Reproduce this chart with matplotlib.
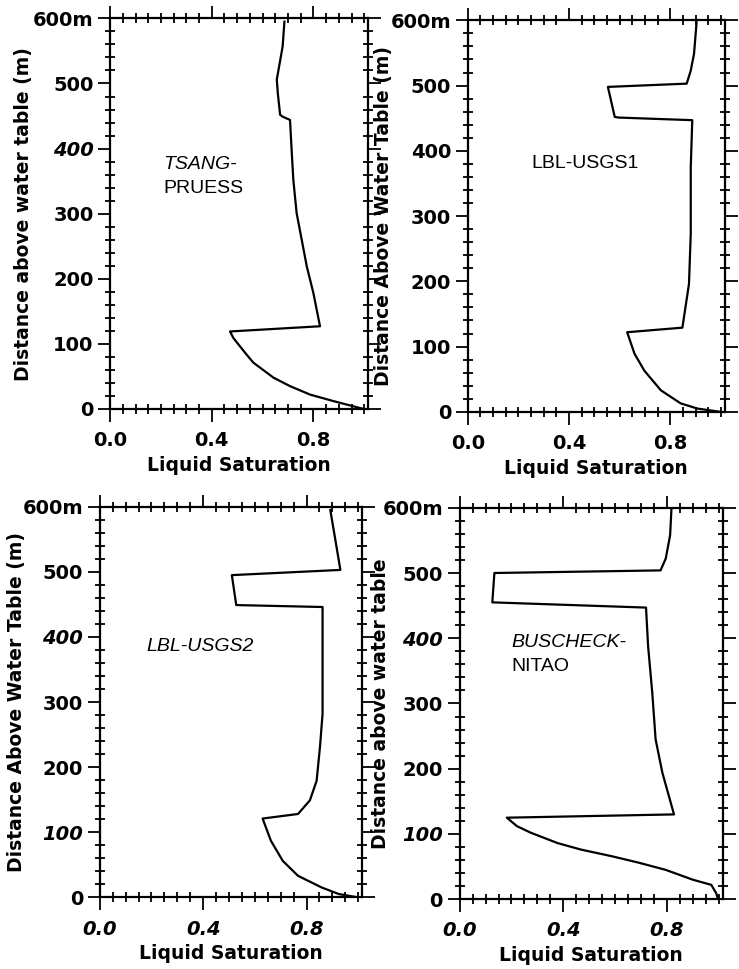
import matplotlib.pyplot as plt
from matplotlib.ticker import MultipleLocator

# liquid saturation profiles (saturation, height above water table in m)
tp_sat = [0.686, 0.679, 0.656, 0.66, 0.669, 0.679, 0.708, 0.715, 0.721, 0.734, 0.754, 0.774, 0.80, 0.826,
          0.472, 0.485, 0.538, 0.564, 0.643, 0.708, 0.787, 0.879, 0.997]
tp_z = [595, 557, 506, 485, 452, 449, 444, 393, 352, 301, 260, 219, 178, 127,
        119, 109, 83, 71, 48, 35, 22, 12, 0]

u1_sat = [0.903, 0.893, 0.88, 0.864, 0.553, 0.58, 0.595, 0.886, 0.88, 0.88, 0.873, 0.847,
          0.629, 0.658, 0.697, 0.762, 0.84, 0.906, 0.997]
u1_z = [597, 549, 523, 503, 498, 452, 451, 447, 375, 273, 196, 129,
        122, 89, 63, 33, 13, 5, 0]

u2_sat = [0.892, 0.931, 0.511, 0.528, 0.862, 0.862, 0.852, 0.839, 0.813, 0.767,
          0.63, 0.662, 0.708, 0.767, 0.859, 0.925, 0.997]
u2_z = [595, 503, 495, 449, 446, 282, 231, 179, 149, 128,
        121, 87, 56, 33, 15, 5, 0]

bn_sat = [0.817, 0.812, 0.795, 0.775, 0.134, 0.126, 0.719, 0.727, 0.743, 0.756, 0.782, 0.827,
          0.182, 0.221, 0.274, 0.378, 0.469, 0.586, 0.691, 0.795, 0.899, 0.971, 0.99, 0.997]
bn_z = [598, 558, 522, 504, 500, 455, 447, 388, 317, 245, 194, 130,
        125, 112, 102, 86, 76, 66, 56, 45, 30, 22, 9, 0]

names = [("TSANG-", "PRUESS"), ("LBL-USGS1", ""), ("LBL-USGS2", ""), ("BUSCHECK-", "NITAO")]
ylabels = ["Distance above water table (m)", "Distance Above Water Table (m)",
           "Distance Above Water Table (m)", "Distance above water table"]
ytick_vals = [0, 100, 200, 300, 400, 500, 600]
ytick_text = ["0", "100", "200", "300", "400", "500", "600m"]
xtick_vals = [0.0, 0.4, 0.8]
xtick_text = ["0.0", "0.4", "0.8"]

profiles = [(tp_sat, tp_z), (u1_sat, u1_z), (u2_sat, u2_z), (bn_sat, bn_z)]

# axes boxes [left, bottom, width, height] in figure fraction
boxes = [[0.149, 0.578, 0.349, 0.403],
         [0.633, 0.575, 0.348, 0.404],
         [0.135, 0.074, 0.355, 0.403],
         [0.622, 0.072, 0.356, 0.404]]
name_pos = [(0.21, 375), (0.25, 381), (0.18, 385), (0.20, 393)]
ylab_x = [-0.30, -0.29, -0.28, -0.266]
italic_y = [[400], [], [400, 100], [400, 100]]
italic_x = [False, False, True, True]

fig = plt.figure(figsize=(7.39, 9.69), dpi=100)

for i, (sat, z) in enumerate(profiles):
    ax = fig.add_axes(boxes[i])
    ax.plot(sat, z, color="black", lw=1.6)
    ax.set_xlim(0, 1.015)
    ax.set_ylim(0, 600)

    ax.set_xticks(xtick_vals)
    ax.set_xticklabels(xtick_text)
    ax.set_yticks(ytick_vals)
    ax.set_yticklabels(ytick_text)
    ax.xaxis.set_minor_locator(MultipleLocator(0.05))
    ax.yaxis.set_minor_locator(MultipleLocator(20))
    ax.tick_params(which="both", top=True, right=True, width=1.3, color="black")
    ax.tick_params(which="major", direction="out", length=9)
    ax.tick_params(axis="x", which="major", pad=7)
    ax.tick_params(axis="y", which="major", pad=3)
    ax.tick_params(which="minor", direction="inout", length=7)
    for lab in ax.get_xticklabels() + ax.get_yticklabels():
        lab.set_fontfamily("DejaVu Sans")
        lab.set_fontweight("bold")
        lab.set_fontsize(14)
    for lab, v in zip(ax.get_yticklabels(), ytick_vals):
        if v in italic_y[i]:
            lab.set_style("italic")
    if italic_x[i]:
        for lab in ax.get_xticklabels():
            lab.set_style("italic")

    for sp in ax.spines.values():
        sp.set_linewidth(1.6)

    ax.set_xlabel("Liquid Saturation", fontsize=13.5, fontweight="bold", family="DejaVu Sans")
    ax.xaxis.set_label_coords(0.5, -0.12)
    ax.set_ylabel(ylabels[i], fontsize=13.5, fontweight="bold", family="DejaVu Sans")
    ax.yaxis.set_label_coords(ylab_x[i], 0.5)

    first, second = names[i]
    style = "normal" if i == 1 else "italic"
    nx, ny = name_pos[i]
    ax.text(nx, ny, first, fontsize=14, family="Liberation Sans", style=style, va="center", ha="left")
    if second:
        ax.text(nx, ny - 37, second, fontsize=14, family="Liberation Sans", va="center", ha="left")

fig.savefig("out.png", dpi=100)
